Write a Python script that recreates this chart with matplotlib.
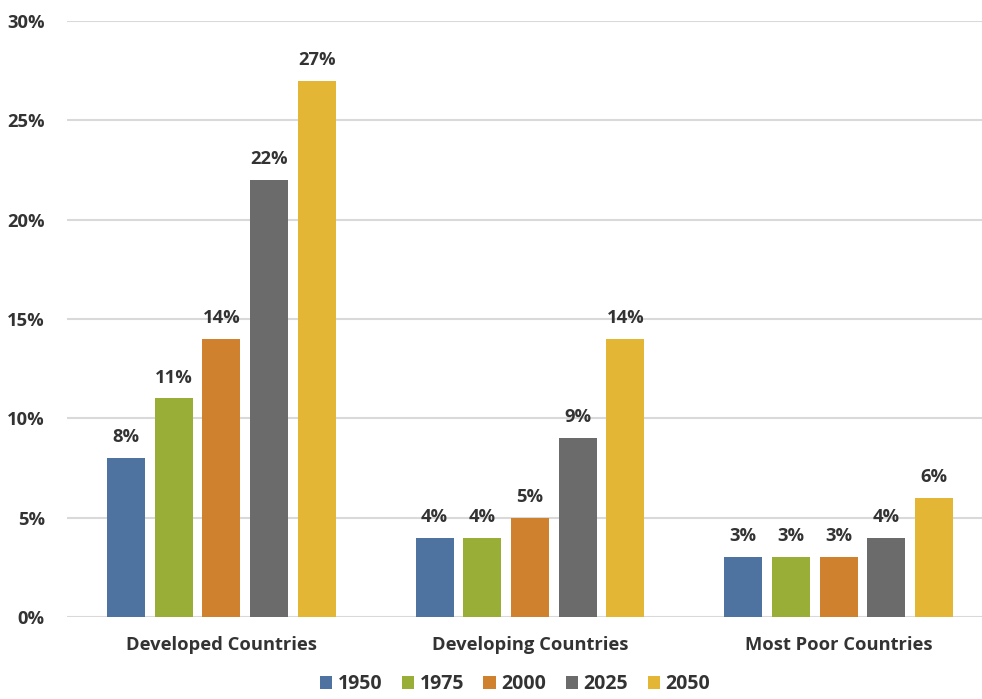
import numpy as np
import matplotlib.pyplot as plt

# share of population aged 65+ by country group
groups = ["Developed Countries", "Developing Countries", "Most Poor Countries"]
years = ["1950", "1975", "2000", "2025", "2050"]
share_1950 = [8, 4, 3]
share_1975 = [11, 4, 3]
share_2000 = [14, 5, 3]
share_2025 = [22, 9, 4]
share_2050 = [27, 14, 6]
colors = ["#4E73A0", "#99AE37", "#D0812D", "#6B6B6B", "#E3B635"]

series = [share_1950, share_1975, share_2000, share_2025, share_2050]

plt.rcParams['font.family'] = ['Open Sans', 'DejaVu Sans']
txt = "#333333"
fs = 13.2

fig = plt.figure(figsize=(9.82, 6.99), dpi=100)
ax = fig.add_axes([67/982, 1 - 617/699, 926/982, 596/699])

x = np.arange(len(groups))
step = 0.1545
width = 0.123
for i, (vals, c, yr) in enumerate(zip(series, colors, years)):
    pos = x + (i - 2) * step
    bars = ax.bar(pos, vals, width, color=c, label=yr, zorder=3)
    for b, v in zip(bars, vals):
        ax.text(b.get_x() + b.get_width()/2, v + 0.6, f"{v}%", ha="center", va="bottom",
                fontsize=fs, fontweight="bold", color=txt)

ax.set_xlim(-0.5, 2.5)
ax.set_ylim(0, 30)
ax.set_yticks(range(0, 31, 5))
ax.set_yticklabels([f"{t}%" for t in range(0, 31, 5)])
ax.yaxis.grid(True, color="#D9D9D9", linewidth=1.5, zorder=0)
ax.set_xticks(x)
ax.set_xticklabels(groups)
for s in ax.spines.values():
    s.set_visible(False)
ax.tick_params(axis="both", length=0, labelsize=fs, labelcolor=txt)
ax.tick_params(axis="y", pad=16)
ax.tick_params(axis="x", pad=14)
for lab in ax.get_xticklabels() + ax.get_yticklabels():
    lab.set_fontweight("bold")

fig.legend(loc="lower center", bbox_to_anchor=(515/982, -0.018), ncol=5, frameon=False,
           prop={"size": 14, "weight": "bold"}, handlelength=0.62, handleheight=0.62,
           handletextpad=0.3, columnspacing=1.0, labelcolor=txt)

plt.savefig("out.png", dpi=100)
